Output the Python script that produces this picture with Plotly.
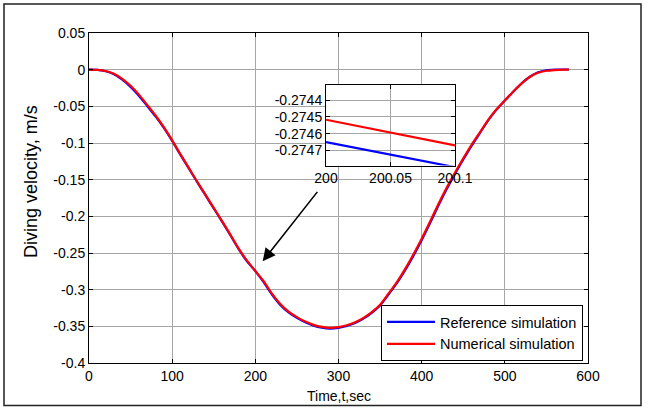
import plotly.graph_objects as go

# ---- data ----
time_s = [0, 10, 20, 30, 40, 50, 60, 70, 80, 90, 100, 110, 120, 130, 140, 150,
          160, 170, 180, 190, 200, 210, 220, 230, 240, 250, 260, 270, 280, 290,
          300, 310, 320, 330, 340, 350, 360, 370, 380, 390, 400, 410, 420, 430,
          440, 450, 460, 470, 480, 490, 500, 510, 520, 530, 540, 550, 560, 570, 577]

numerical_sim = [0, -0.0003, -0.0018, -0.0055, -0.0125, -0.022, -0.034, -0.048,
                 -0.0625, -0.0785, -0.0965, -0.1155, -0.134, -0.1525, -0.1705,
                 -0.1885, -0.2065, -0.2250, -0.2440, -0.2605, -0.27452, -0.2885,
                 -0.3055, -0.3195, -0.3300, -0.3375, -0.3435, -0.3480, -0.3508,
                 -0.3520, -0.3510, -0.3485, -0.3445, -0.3385, -0.3305, -0.3205,
                 -0.3055, -0.2900, -0.2720, -0.2520, -0.2305, -0.2075, -0.1835,
                 -0.1610, -0.1405, -0.1210, -0.1025, -0.0855, -0.0685, -0.0540,
                 -0.0420, -0.0300, -0.0190, -0.0100, -0.0042, -0.0015, -0.0005,
                 0.0, 0.0]

reference_sim = [0, -0.0004, -0.0022, -0.0062, -0.0135, -0.0235, -0.0355, -0.0495,
                 -0.0638, -0.0795, -0.0972, -0.1162, -0.1347, -0.1532, -0.1712,
                 -0.1892, -0.2072, -0.2258, -0.2448, -0.2615, -0.27465, -0.2898,
                 -0.3068, -0.3208, -0.3310, -0.3385, -0.3445, -0.3490, -0.3518,
                 -0.3530, -0.3520, -0.3495, -0.3455, -0.3395, -0.3315, -0.3215,
                 -0.3068, -0.2915, -0.2738, -0.2540, -0.2325, -0.2095, -0.1855,
                 -0.1630, -0.1422, -0.1225, -0.1038, -0.0865, -0.0692, -0.0545,
                 -0.0422, -0.0300, -0.0188, -0.0096, -0.0036, -0.0008, 0.0000,
                 0.0002, 0.0002]

# zoomed inset data
inset_time = [200, 200.1]
inset_reference = [-0.27465, -0.27480]
inset_numerical = [-0.274517, -0.27467]

x_ticks = [0, 100, 200, 300, 400, 500, 600]
y_ticks = [0.05, 0, -0.05, -0.1, -0.15, -0.2, -0.25, -0.3, -0.35, -0.4]
y_ticktext = ["0.05", "0", "-0.05", "-0.1", "-0.15", "-0.2", "-0.25", "-0.3", "-0.35", "-0.4"]
inset_x_ticks = [200, 200.05, 200.1]
inset_x_ticktext = ["200", "200.05", "200.1"]
inset_y_ticks = [-0.2744, -0.2745, -0.2746, -0.2747]
inset_y_ticktext = ["-0.2744", "-0.2745", "-0.2746", "-0.2747"]

# arrow (data coords): head and tail
arrow_head = (208.8, -0.2614)
arrow_tail = (276, -0.1646)

FONT = "Liberation Sans, Arial, sans-serif"
BLUE = "#0000FF"
RED = "#FF0000"
GRID = "#a6a6a6"
TICK_SIZE = 14

fig = go.Figure()

fig.add_trace(go.Scatter(x=time_s, y=reference_sim, mode="lines",
                         name="Reference simulation",
                         line=dict(color=BLUE, width=2.2, shape="spline", smoothing=0.6)))
fig.add_trace(go.Scatter(x=time_s, y=numerical_sim, mode="lines",
                         name="Numerical simulation",
                         line=dict(color=RED, width=2.2, shape="spline", smoothing=0.6)))

fig.add_trace(go.Scatter(x=inset_time, y=inset_reference, mode="lines",
                         showlegend=False, xaxis="x2", yaxis="y2",
                         line=dict(color=BLUE, width=2.2)))
fig.add_trace(go.Scatter(x=inset_time, y=inset_numerical, mode="lines",
                         showlegend=False, xaxis="x2", yaxis="y2",
                         line=dict(color=RED, width=2.2)))

# plot area pixels: x 89..588, y 33..363
L, R, T, B = 89, 60, 33, 47
W, H = 648, 410
pw, ph = W - L - R, H - T - B

def px(xp):
    return (xp - L) / pw

def py(yp):
    return (H - B - yp) / ph

axis_common = dict(showline=True, linecolor="black", linewidth=1, mirror="allticks",
                   ticks="inside", ticklen=4, tickcolor="black",
                   showgrid=True, gridcolor=GRID, gridwidth=1, zeroline=False,
                   tickfont=dict(family=FONT, size=TICK_SIZE, color="black"))

fig.update_layout(
    width=W, height=H,
    margin=dict(l=L, r=R, t=T, b=B),
    paper_bgcolor="white", plot_bgcolor="white",
    font=dict(family=FONT, size=TICK_SIZE, color="black"),
    xaxis=dict(range=[0, 600], tickvals=x_ticks, ticktext=[str(v) for v in x_ticks],
               domain=[0, 1], **axis_common),
    yaxis=dict(range=[-0.4, 0.05], tickvals=y_ticks, ticktext=y_ticktext,
               domain=[0, 1], **axis_common),
    xaxis2=dict(range=[200, 200.1], tickvals=inset_x_ticks, ticktext=inset_x_ticktext,
                domain=[px(326), px(455)], anchor="y2", **axis_common),
    yaxis2=dict(range=[-0.27479, -0.27431], tickvals=inset_y_ticks,
                ticktext=inset_y_ticktext,
                domain=[py(165.5), py(85)], anchor="x2", **axis_common),
    legend=dict(x=px(583), y=py(333), xanchor="right", yanchor="middle",
                bgcolor="white", bordercolor="black", borderwidth=1,
                font=dict(family=FONT, size=14.5, color="black"),
                itemwidth=48, tracegroupgap=0),
    showlegend=True,
)

# white background of the inset (hides main grid behind it)
fig.add_shape(type="rect", xref="x2", yref="y2", x0=200, x1=200.1,
              y0=-0.27479, y1=-0.27431, fillcolor="white", line=dict(width=0),
              layer="below")

# outer figure border
fig.add_shape(type="rect", xref="paper", yref="paper",
              x0=px(4), x1=px(641), y0=py(405.5), y1=py(4),
              line=dict(color="#222222", width=1.5), fillcolor="rgba(0,0,0,0)",
              layer="above")

# arrow
fig.add_annotation(x=arrow_head[0], y=arrow_head[1], ax=arrow_tail[0], ay=arrow_tail[1],
                   xref="x", yref="y", axref="x", ayref="y", text="",
                   showarrow=True, arrowhead=2, arrowsize=1.6, arrowwidth=1.6,
                   arrowcolor="black", standoff=0)

# axis titles
fig.add_annotation(text="Diving velocity, m/s", xref="paper", yref="paper",
                   x=0, y=py(182), xshift=31 - L, xanchor="center", yanchor="middle",
                   textangle=-90, showarrow=False,
                   font=dict(family=FONT, size=18, color="black"))
fig.add_annotation(text="Time,t,sec", xref="paper", yref="paper",
                   x=0.5, y=py(396), xanchor="center", yanchor="middle",
                   showarrow=False, font=dict(family=FONT, size=14, color="black"))

fig.write_html("out.html", config={"displayModeBar": False},
               post_script="document.body.style.margin='0px';document.body.style.padding='0px';")
